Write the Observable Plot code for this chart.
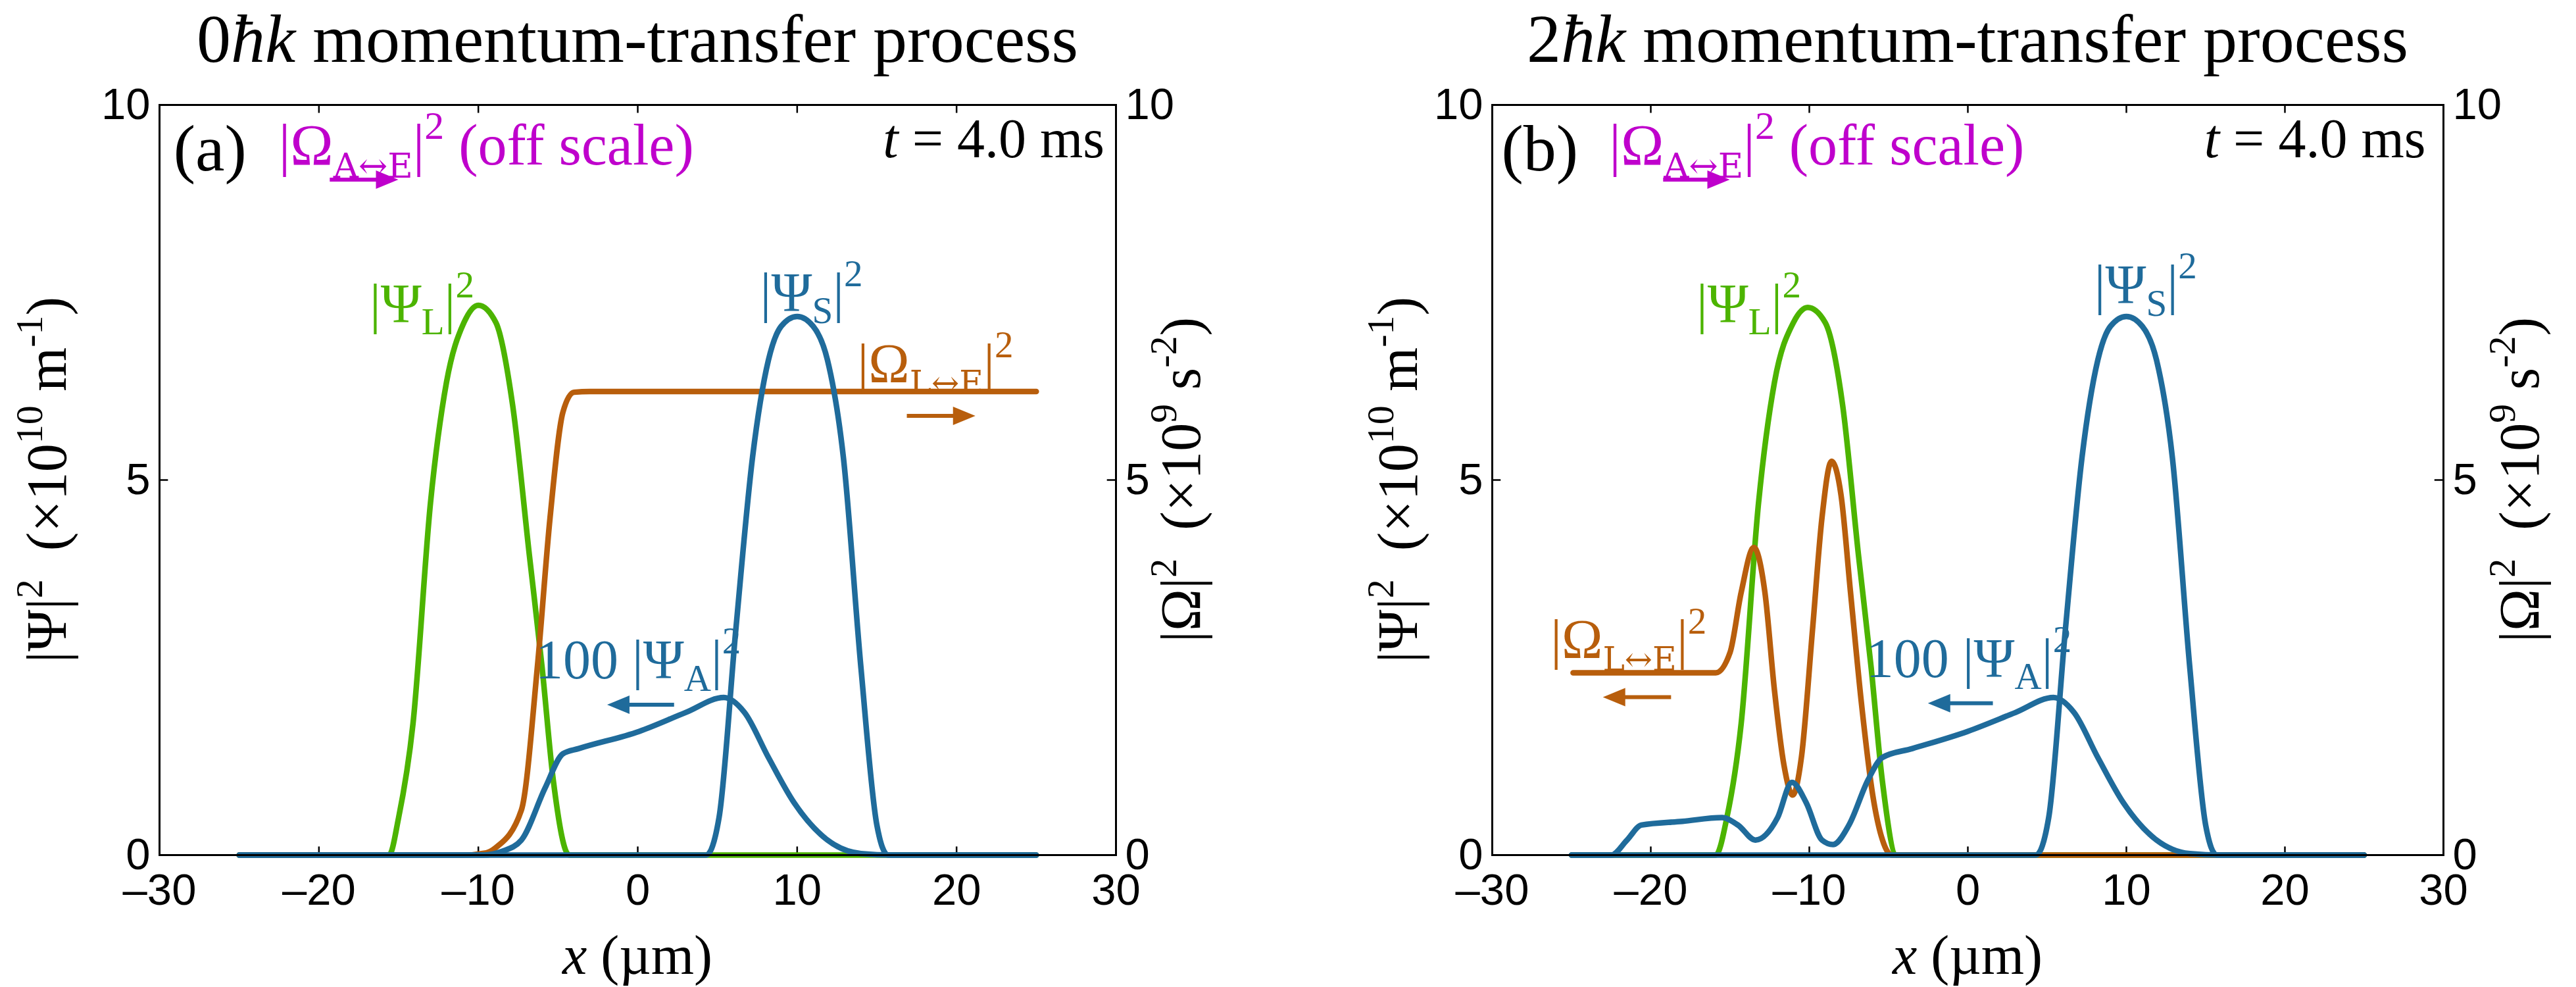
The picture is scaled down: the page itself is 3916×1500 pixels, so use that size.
<!DOCTYPE html>
<html><head><meta charset="utf-8">
<script src="https://cdn.jsdelivr.net/npm/d3@7"></script>
<script src="https://cdn.jsdelivr.net/npm/@observablehq/plot@0.6"></script>
<style>
body{margin:0;background:#fff;}
#wrap{display:flex;width:3916px;height:1500px;}
</style></head><body><div id="wrap"></div>
<script>
// ---------- data ----------
const xTicks = [-30,-20,-10,0,10,20,30];
const yTicks = [0,5,10];
const innerXTicks = [-20,-10,0,10,20];

// Panel (a)
const aPsiL_x = [-25,-15.6,-15,-14.1,-13,-12,-10.9,-10,-8.9,-7.85,-6.8,-6.0,-5.3,-4.3,0,25];
const aPsiL_y = [0,0,0.5,1.75,4.7,6.3,7.1,7.33,7.1,6.0,4.0,2.5,1.0,0,0,0];
const aOmL_x = [-25,-11,-9.5,-8.9,-7.3,-6.3,-5.5,-4.7,-4.0,-3.0,25];
const aOmL_y = [0,0,0.03,0.1,0.6,2.5,4.5,5.9,6.17,6.18,6.18];
const psiS_x = [-25,4.3,5.1,6.15,7.2,8.2,9.0,10,11.0,11.9,12.9,14,15,15.7,25];
const psiS_y = [0,0,0.5,3,5.3,6.6,7.05,7.18,7.05,6.6,5.3,2.5,0.4,0,0];
const aPsiA_x = [-25,-9.7,-8.5,-7.3,-5.8,-4.7,-3.7,0.1,3.0,5.4,6.7,8.2,9.8,11.9,14,16,25];
const aPsiA_y = [0,0,0.05,0.2,0.9,1.35,1.42,1.65,1.9,2.1,1.9,1.3,0.7,0.2,0.02,0,0];

// Panel (b)
const bPsiL_x = [-25,-15.9,-15.2,-14.3,-13.2,-12.2,-11.0,-10.1,-9.0,-7.9,-6.9,-6.1,-5.4,-4.5,0,25];
const bPsiL_y = [0,0,0.5,1.75,4.7,6.3,7.1,7.3,7.1,6.0,4.0,2.5,1.0,0,0,0];
const bOmL_x = [-24.9,-15.9,-15.0,-14.3,-13.5,-12.8,-12.2,-11.6,-11.05,-10.5,-9.8,-9.2,-8.6,-8.0,-7.4,-6.7,-6.0,-5.3,-4.8,0,25];
const bOmL_y = [2.43,2.43,2.7,3.5,4.1,3.5,2.2,1.2,0.8,1.3,3.0,4.5,5.25,4.8,3.5,2.0,0.8,0.15,0,0,0];
const bPsiA_x = [-25,-22.5,-21.5,-20.6,-18,-15.5,-14.5,-13.4,-12,-11.1,-10.2,-9.2,-8.5,-7.5,-6.3,-5.4,-3.5,0,3.0,5.4,6.7,8.2,9.8,11.9,14,16,25];
const bPsiA_y = [0,0,0.2,0.4,0.45,0.5,0.4,0.2,0.5,0.97,0.7,0.2,0.14,0.4,1.0,1.3,1.42,1.65,1.9,2.1,1.9,1.3,0.7,0.2,0.02,0,0];

const C = {green:"#4cb400", blue:"#1f6b9b", orange:"#b85e0c", magenta:"#bf00cc", black:"#000"};
const SERIF = "'Liberation Serif','DejaVu Serif',serif";

const zip = (xs, ys) => xs.map((x,i)=>({x, y: ys[i]}));

function makePanel(opt){
  const series = opt.series;
  const plot = Plot.plot({
    width:1958, height:1500,
    marginLeft:opt.ml, marginRight:opt.mr, marginTop:159, marginBottom:201,
    x:{domain:[-30,30]}, y:{domain:[0,10]},
    style:{fontFamily:"'Liberation Sans',Arial,sans-serif", fontSize:"67px", color:"#000", background:"#fff"},
    marks:[
      Plot.axisX({ticks:xTicks, tickSize:0, tickPadding:28, tickFormat:d=>d<0?"\u2013"+(-d):String(d), label:null}),
      Plot.axisY({ticks:yTicks, tickSize:0, tickPadding:14, anchor:"left", label:null}),
      Plot.axisY({ticks:yTicks, tickSize:0, tickPadding:14, anchor:"right", label:null}),
      Plot.ruleX(innerXTicks, {x:d=>d, y1:0, y2:0.11, stroke:"#000", strokeWidth:2.5}),
      Plot.ruleX(innerXTicks, {x:d=>d, y1:9.89, y2:10, stroke:"#000", strokeWidth:2.5}),
      Plot.ruleY([5], {y:d=>d, x1:-30, x2:-29.45, stroke:"#000", strokeWidth:2.5}),
      Plot.ruleY([5], {y:d=>d, x1:29.45, x2:30, stroke:"#000", strokeWidth:2.5}),
      ...series.map(s=>Plot.line(zip(s.x,s.y), {x:"x", y:"y", stroke:s.color, strokeWidth:8.5, curve:"monotone-x"})),
      Plot.frame({stroke:"#000", strokeWidth:3})
    ]
  });
  const sx = plot.scale("x").apply, sy = plot.scale("y").apply;
  const svg = d3.select(plot);
  function rich(x, y, parts, color, size, anchor="start"){
    const t = svg.append("text").attr("x", sx(x)).attr("y", sy(y))
      .attr("fill", color).attr("font-family", SERIF).attr("font-size", size).attr("text-anchor", anchor);
    let cur = 0;
    for (const [txt, kind, it] of parts){
      const target = kind==="sub" ? 0.22*size : kind==="sup" ? -0.45*size : 0;
      const ts = t.append("tspan").text(txt).attr("dy", target-cur);
      cur = target;
      if (kind) ts.attr("font-size", size*0.68);
      if (kind==="sub" && txt.includes("\u2194")) ts.attr("font-family","'DejaVu Serif',serif").attr("font-size", size*0.6);
      if (it) ts.attr("font-style","italic");
    }
    return t;
  }
  function arrow(x1, x2, y, color){
    const X1=sx(x1), X2=sx(x2), Y=sy(y), dir = Math.sign(X2-X1), hl=34, hw=14;
    svg.append("line").attr("x1",X1).attr("x2",X2-dir*hl*0.8).attr("y1",Y).attr("y2",Y)
      .attr("stroke",color).attr("stroke-width",6);
    svg.append("path").attr("d",`M${X2},${Y}L${X2-dir*hl},${Y-hw}L${X2-dir*hl},${Y+hw}Z`).attr("fill",color);
  }
  for (const a of opt.labels) rich(a.x, a.y, a.parts, a.color, a.size, a.anchor);
  for (const a of opt.arrows) arrow(a.x1, a.x2, a.y, a.color);
  const fw = 1958-opt.ml-opt.mr, cx = opt.ml + fw/2;
  const title = svg.append("text").attr("x",cx).attr("y",94).attr("text-anchor","middle")
    .attr("font-family",SERIF).attr("font-size",104).attr("fill","#000");
  title.append("tspan").text(opt.n);
  title.append("tspan").text("\u0127k").attr("font-style","italic");
  title.append("tspan").text(" momentum-transfer process");
  const xl = svg.append("text").attr("x",cx).attr("y",1480).attr("text-anchor","middle")
    .attr("font-family",SERIF).attr("font-size",84);
  xl.append("tspan").text("x").attr("font-style","italic"); xl.append("tspan").text(" (\u00b5m)");
  const cy = 159 + (1299-159)/2;
  function ylab(tx, main, e1, e2, e3){
    const t = svg.append("text").attr("transform",`translate(${tx},${cy}) rotate(-90)`).attr("text-anchor","middle")
      .attr("font-family",SERIF).attr("font-size",86);
    t.append("tspan").text(main); t.append("tspan").text("2").attr("dy",-36).attr("font-size",58);
    t.append("tspan").text("  (\u00d710").attr("dy",36); t.append("tspan").text(e1).attr("dy",-36).attr("font-size",58);
    t.append("tspan").text(" "+e2).attr("dy",36); t.append("tspan").text(e3).attr("dy",-36).attr("font-size",58);
    t.append("tspan").text(")").attr("dy",36);
  }
  ylab(opt.ylx, "|\u03a8|", "10", "m", "-1");
  ylab(1958-opt.mr+opt.yrx, "|\u03a9|", "9", "s", "-2");
  return plot;
}

const OmAE = [["|\u03a9"],["A\u2194E","sub"],["|"],["2","sup"],[" (off scale)"]];
const tLab = [["t",null,true],[" = 4.0 ms"]];
const PsiL = [["|\u03a8"],["L","sub"],["|"],["2","sup"]];
const PsiS = [["|\u03a8"],["S","sub"],["|"],["2","sup"]];
const PsiA = [["100 |\u03a8"],["A","sub"],["|"],["2","sup"]];
const OmLE = [["|\u03a9"],["L\u2194E","sub"],["|"],["2","sup"]];

const wrap = document.getElementById("wrap");
wrap.append(makePanel({
  n:"0", ml:242, mr:262, ylx:100, yrx:128,
  series:[
    {x:aPsiL_x, y:aPsiL_y, color:C.green},
    {x:aOmL_x, y:aOmL_y, color:C.orange},
    {x:psiS_x, y:psiS_y, color:C.blue},
    {x:aPsiA_x, y:aPsiA_y, color:C.blue}
  ],
  labels:[
    {x:-29.1, y:9.12, parts:[["(a)"]], color:C.black, size:100},
    {x:-22.5, y:9.2, parts:OmAE, color:C.magenta, size:88},
    {x:29.3, y:9.3, parts:tLab, color:C.black, size:84, anchor:"end"},
    {x:-16.8, y:7.1, parts:PsiL, color:C.green, size:84},
    {x:7.7, y:7.25, parts:PsiS, color:C.blue, size:84},
    {x:13.8, y:6.3, parts:OmLE, color:C.orange, size:84},
    {x:-6.4, y:2.35, parts:PsiA, color:C.blue, size:84}
  ],
  arrows:[
    {x1:-19.3, x2:-15.0, y:9.0, color:C.magenta},
    {x1:16.9, x2:21.2, y:5.85, color:C.orange},
    {x1:2.3, x2:-1.9, y:2.0, color:C.blue}
  ]
}));
wrap.append(makePanel({
  n:"2", ml:310, mr:202, ylx:196, yrx:145,
  series:[
    {x:bPsiL_x, y:bPsiL_y, color:C.green},
    {x:bOmL_x, y:bOmL_y, color:C.orange},
    {x:psiS_x, y:psiS_y, color:C.blue},
    {x:bPsiA_x, y:bPsiA_y, color:C.blue}
  ],
  labels:[
    {x:-29.4, y:9.12, parts:[["(b)"]], color:C.black, size:100},
    {x:-22.6, y:9.2, parts:OmAE, color:C.magenta, size:88},
    {x:28.9, y:9.3, parts:tLab, color:C.black, size:84, anchor:"end"},
    {x:-17.1, y:7.1, parts:PsiL, color:C.green, size:84},
    {x:8.0, y:7.35, parts:PsiS, color:C.blue, size:84},
    {x:-26.3, y:2.62, parts:OmLE, color:C.orange, size:84},
    {x:-6.4, y:2.37, parts:PsiA, color:C.blue, size:84}
  ],
  arrows:[
    {x1:-19.2, x2:-15.0, y:9.0, color:C.magenta},
    {x1:-18.7, x2:-23.0, y:2.1, color:C.orange},
    {x1:1.6, x2:-2.5, y:2.02, color:C.blue}
  ]
}));
</script></body></html>
